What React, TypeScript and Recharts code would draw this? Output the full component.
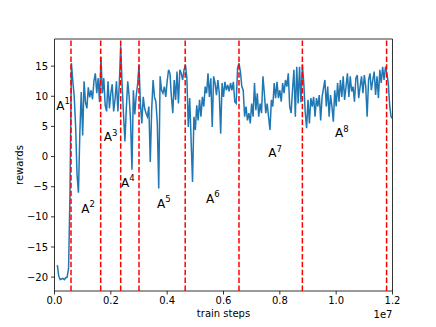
import React from 'react';
import {
  LineChart,
  Line,
  XAxis,
  YAxis,
  ReferenceLine,
  ReferenceDot,
  ReferenceArea,
} from 'recharts';

// sampling grid of the logged curve (train steps)
const FIRST_STEP = 100000;
const STEP_SIZE = 50000;

const REWARDS = [
  -18.0, -19.8, -20.4, -20.3, -20.2, -20.4, -20.1, -20.0, -18.5, -6.0, 15.5,
  12.5, 10.0, 5.0, -3.0, -6.0, 4.0, 10.7, 3.5, 12.5, 9.0, 8.0, 11.5, 9.8, 11.0, 9.5, 12.5, 13.8, 10.5, 13.0, 9.0, 16.5,
  10.5, 13.0, 8.5, 7.5, 12.5, 8.0, 10.5, 12.0, 7.5, 9.5, 12.5, 7.5, 12.0, 18.3,
  12.0, 7.0, 2.5, 8.0, 12.5, 10.0, 6.0, -2.2, 11.0, 7.0, 10.0, 12.0, 15.2,
  8.8, 5.5, 9.9, 8.0, 7.2, 6.6, 8.3, -0.9, 7.7, 12.7, 9.9, 9.1, 5.5, -5.3, 13.3, 11.0, 10.5, 11.6, 9.9, 12.5,
  14.4, 13.8, 9.9, 7.2, 12.7, 9.4, 14.1, 8.8, 14.4, 13.8, 12.7, 14.4, 15.2,
  13.0, 4.9, 9.7, 2.7, -4.2, 6.6, 4.4, 8.5, 6.0, 9.4, 6.6, 9.9, 8.3, 11.6, 10.5, 13.8, 9.9, 13.0, 4.9, 13.3,
  12.2, 10.2, 12.7, 10.5, 3.8, 12.2, 9.9, 12.4, 11.0, 11.9, 10.8, 12.2, 11.0, 12.4, 9.1, 8.8, 14.7, 15.5,
  14.1, 11.6, 11.0, 6.6, 8.3, 6.0, 7.2, 5.5, 8.8, 6.6, 12.2, 7.7, 10.5, 6.6, 8.8, 7.2, 13.3, 10.5, 7.2, 8.8,
  6.6, 4.4, 9.4, 8.3, 12.2, 9.7, 12.4, 9.7, 11.0, 9.1, 12.2, 10.5, 12.7, 11.6, 13.8, 8.3, 7.2, 11.0, 14.4, 6.6,
  14.9, 8.8, 14.9, 9.0, 15.2,
  12.2, 7.4, 4.7, 9.4, 5.5, 9.7, 8.3, 9.9, 6.6, 9.7, 8.3, 10.2, 6.0, 9.9, 11.3, 12.7, 8.3, 11.6, 6.6, 10.2,
  8.3, 5.8, 11.0, 8.3, 12.2, 9.1, 12.7, 9.9, 13.3, 9.4, 11.6, 13.8, 9.9, 13.3, 10.8, 11.6, 9.1, 13.0, 13.5, 9.7,
  11.6, 13.3, 10.5, 13.5, 11.6, 6.6, 12.7, 13.8, 11.0, 12.7, 14.1, 10.2, 13.3, 9.7, 14.4, 12.2, 14.9, 12.7, 14.9, 13.8,
  12.2, 8.5, 6.6, 6.3,
];

// steps where the task switched (red dashed lines)
const SWITCH_STEPS = [586000, 1640000, 2350000, 3000000, 4640000, 6550000, 8800000, 11790000];

// A^k annotations: [step, reward] anchor of each label
const TASK_LABELS = ['1', '2', '3', '4', '5', '6', '7', '8'];
const LABEL_STEPS = [60000, 950000, 1750000, 2360000, 3640000, 5380000, 7590000, 9960000];
const LABEL_REWARDS = [8.55, -8.6, 3.27, -4.23, -7.73, -6.95, 0.6, 3.93];

const X_TICKS = [0, 2000000, 4000000, 6000000, 8000000, 10000000, 12000000];
const Y_TICKS = [-20, -15, -10, -5, 0, 5, 10, 15];
const X_DOMAIN = [0, 12000000];
const Y_DOMAIN = [-22.3, 19.5];

const FONT = '"DejaVu Sans", sans-serif';

const data = REWARDS.map((r, i) => ({ step: FIRST_STEP + i * STEP_SIZE, reward: r }));

const fmtY = (v: number) => (v < 0 ? `\u2212${Math.abs(v)}` : `${v}`);
const fmtX = (v: number) => (v / 1e7).toFixed(1);

const XLabel = (props: any) => {
  const { x, y, width } = props.viewBox;
  return (
    <g fontFamily={FONT} fontSize={10} fill="#000">
      <text x={x + width / 2} y={y + 26} textAnchor="middle">train steps</text>
      <text x={x + width} y={y + 27} textAnchor="end">1e7</text>
    </g>
  );
};

const YLabel = (props: any) => {
  const { y, height } = props.viewBox;
  const cy = y + height / 2;
  return (
    <text
      x={23}
      y={cy}
      transform={`rotate(-90 23 ${cy})`}
      textAnchor="middle"
      fontFamily={FONT}
      fontSize={10}
      fill="#000"
    >
      rewards
    </text>
  );
};

const taskShape = (sup: string) => (p: any) => (
  <text x={p.cx} y={p.cy + 4.5} fontFamily={FONT} fontSize={12} fill="#000">
    A
    <tspan dy={-5.5} fontSize={8.5}>{sup}</tspan>
  </text>
);

export default function App() {
  return (
    <div style={{ position: 'fixed', left: 0, top: 0, width: 436, height: 327, background: '#fff' }}>
      <LineChart
        width={436}
        height={327}
        data={data}
        margin={{ top: 39, right: 43.5, bottom: 0, left: 0 }}
      >
        <XAxis
          dataKey="step"
          type="number"
          domain={X_DOMAIN}
          ticks={X_TICKS}
          tickFormatter={fmtX}
          allowDataOverflow
          height={36}
          axisLine={false}
          tickLine={{ stroke: '#000', strokeWidth: 0.8 }}
          tickSize={3.5}
          tickMargin={2}
          tick={{ fontFamily: FONT, fontSize: 10, fill: '#000' }}
          label={<XLabel />}
        />
        <YAxis
          type="number"
          domain={Y_DOMAIN}
          ticks={Y_TICKS}
          tickFormatter={fmtY}
          allowDataOverflow
          width={54.5}
          axisLine={false}
          tickLine={{ stroke: '#000', strokeWidth: 0.8 }}
          tickSize={3.5}
          tickMargin={3}
          tick={{ fontFamily: FONT, fontSize: 10, fill: '#000' }}
          label={<YLabel />}
        />
        <ReferenceArea
          x1={X_DOMAIN[0]}
          x2={X_DOMAIN[1]}
          y1={Y_DOMAIN[0]}
          y2={Y_DOMAIN[1]}
          fill="none"
          stroke="#000"
          strokeWidth={0.8}
        />
        <Line
          dataKey="reward"
          stroke="#1f77b4"
          strokeWidth={1.5}
          dot={false}
          activeDot={false}
          isAnimationActive={false}
        />
        {SWITCH_STEPS.map((s) => (
          <ReferenceLine
            key={s}
            x={s}
            stroke="#ff0000"
            strokeWidth={1.5}
            strokeDasharray="5.5 2.4"
          />
        ))}
        {TASK_LABELS.map((t, i) => (
          <ReferenceDot
            key={t}
            x={LABEL_STEPS[i]}
            y={LABEL_REWARDS[i]}
            r={0}
            shape={taskShape(t)}
          />
        ))}
      </LineChart>
    </div>
  );
}
